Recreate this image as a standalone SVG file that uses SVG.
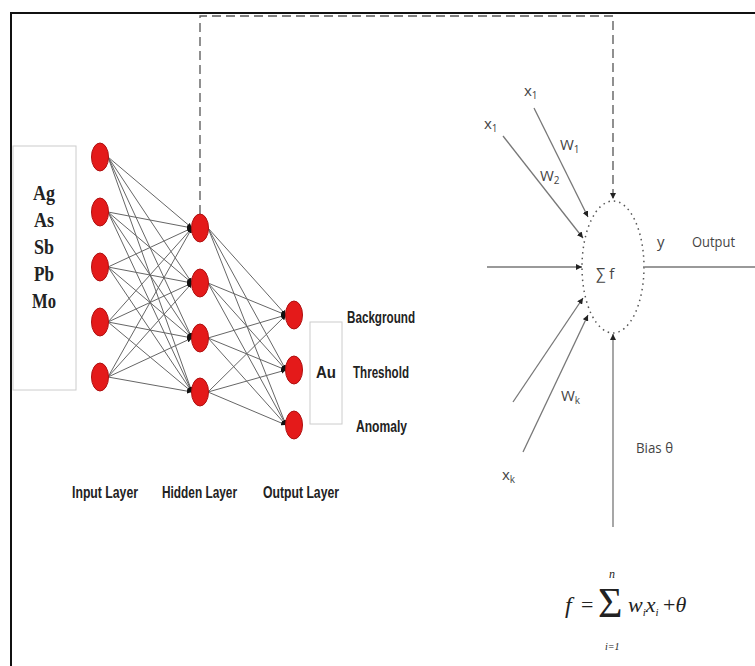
<svg xmlns="http://www.w3.org/2000/svg" width="755" height="666" viewBox="0 0 755 666">
<defs>
<marker id="ah" viewBox="0 0 10 10" refX="10" refY="5" markerWidth="5" markerHeight="5" orient="auto" markerUnits="userSpaceOnUse"><path d="M0,0 L10,5 L0,10 z" fill="#111"/></marker>
<marker id="ah2" viewBox="0 0 10 10" refX="10" refY="5" markerWidth="6" markerHeight="6" orient="auto" markerUnits="userSpaceOnUse"><path d="M0,0 L10,5 L0,10 z" fill="#222"/></marker>
</defs>
<style>
.node{fill:#e41a1a;stroke:#b01010;stroke-width:1}
.e{stroke:#666;stroke-width:1;fill:none;marker-end:url(#ah)}
.box{fill:none;stroke:#ccc;stroke-width:1}
.el{font-family:"Liberation Serif",serif;font-weight:bold;font-size:20px;fill:#222;text-anchor:middle}
.lb{font-family:"Liberation Sans",sans-serif;font-weight:bold;font-size:16px;fill:#222}
.lt{font-family:"Open Sans","Liberation Sans",sans-serif;font-size:15px;fill:#444}
.sub{font-size:10px}
.ln{stroke:#777;stroke-width:1.3;fill:none;marker-end:url(#ah2)}
.fm{font-family:"Liberation Serif",serif;fill:#222}
</style>
<rect x="0" y="0" width="755" height="666" fill="#fff"/>
<path d="M11,666 L11,13 L755,13" fill="none" stroke="#111" stroke-width="2"/>

<g id="input-box">
<rect class="box" x="13" y="146" width="63" height="244"/>
<text class="el" x="44" y="200" textLength="22" lengthAdjust="spacingAndGlyphs">Ag</text>
<text class="el" x="44" y="227" textLength="20" lengthAdjust="spacingAndGlyphs">As</text>
<text class="el" x="44" y="254" textLength="20" lengthAdjust="spacingAndGlyphs">Sb</text>
<text class="el" x="44" y="281" textLength="20" lengthAdjust="spacingAndGlyphs">Pb</text>
<text class="el" x="44" y="308" textLength="24" lengthAdjust="spacingAndGlyphs">Mo</text>
</g>

<g id="connectors">
<g id="nn-edges">
<line class="e" x1="108" y1="157" x2="192" y2="228"/><line class="e" x1="108" y1="157" x2="192" y2="283"/><line class="e" x1="108" y1="157" x2="192" y2="338"/><line class="e" x1="108" y1="157" x2="192" y2="392"/>
<line class="e" x1="108" y1="212" x2="192" y2="228"/><line class="e" x1="108" y1="212" x2="192" y2="283"/><line class="e" x1="108" y1="212" x2="192" y2="338"/><line class="e" x1="108" y1="212" x2="192" y2="392"/>
<line class="e" x1="108" y1="267" x2="192" y2="228"/><line class="e" x1="108" y1="267" x2="192" y2="283"/><line class="e" x1="108" y1="267" x2="192" y2="338"/><line class="e" x1="108" y1="267" x2="192" y2="392"/>
<line class="e" x1="108" y1="322" x2="192" y2="228"/><line class="e" x1="108" y1="322" x2="192" y2="283"/><line class="e" x1="108" y1="322" x2="192" y2="338"/><line class="e" x1="108" y1="322" x2="192" y2="392"/>
<line class="e" x1="108" y1="377" x2="192" y2="228"/><line class="e" x1="108" y1="377" x2="192" y2="283"/><line class="e" x1="108" y1="377" x2="192" y2="338"/><line class="e" x1="108" y1="377" x2="192" y2="392"/>
<line class="e" x1="208" y1="228" x2="286" y2="315"/><line class="e" x1="208" y1="228" x2="286" y2="370"/><line class="e" x1="208" y1="228" x2="286" y2="425"/>
<line class="e" x1="208" y1="283" x2="286" y2="315"/><line class="e" x1="208" y1="283" x2="286" y2="370"/><line class="e" x1="208" y1="283" x2="286" y2="425"/>
<line class="e" x1="208" y1="338" x2="286" y2="315"/><line class="e" x1="208" y1="338" x2="286" y2="370"/><line class="e" x1="208" y1="338" x2="286" y2="425"/>
<line class="e" x1="208" y1="392" x2="286" y2="315"/><line class="e" x1="208" y1="392" x2="286" y2="370"/><line class="e" x1="208" y1="392" x2="286" y2="425"/>
</g>
<path d="M200,214 L200,16 L613,16 L613,199" fill="none" stroke="#555" stroke-width="1.3" stroke-dasharray="9,5" marker-end="url(#ah2)"/>
<line class="ln" x1="534" y1="108" x2="588" y2="217"/>
<line class="ln" x1="503" y1="136" x2="583" y2="238"/>
<line class="ln" x1="487" y1="267" x2="582" y2="267"/>
<line class="ln" x1="513" y1="402" x2="583" y2="298"/>
<line class="ln" x1="523" y1="452" x2="588" y2="315"/>
<line class="ln" x1="613" y1="527" x2="613" y2="334"/>
<line x1="645" y1="267" x2="755" y2="267" stroke="#777" stroke-width="1.3"/>
</g>

<g id="input-layer">
<ellipse class="node" cx="100" cy="157" rx="8.5" ry="14"/>
<ellipse class="node" cx="100" cy="212" rx="8.5" ry="14"/>
<ellipse class="node" cx="100" cy="267" rx="8.5" ry="14"/>
<ellipse class="node" cx="100" cy="322" rx="8.5" ry="14"/>
<ellipse class="node" cx="100" cy="377" rx="8.5" ry="14"/>
</g>
<g id="hidden-layer">
<ellipse class="node" cx="200" cy="228" rx="8.5" ry="14"/>
<ellipse class="node" cx="200" cy="283" rx="8.5" ry="14"/>
<ellipse class="node" cx="200" cy="338" rx="8.5" ry="14"/>
<ellipse class="node" cx="200" cy="392" rx="8.5" ry="14"/>
</g>
<g id="output-layer">
<ellipse class="node" cx="294" cy="315" rx="8.5" ry="14"/>
<ellipse class="node" cx="294" cy="370" rx="8.5" ry="14"/>
<ellipse class="node" cx="294" cy="425" rx="8.5" ry="14"/>
</g>

<g id="au-box">
<rect class="box" x="310" y="322" width="32" height="102"/>
<text class="lb" x="326" y="378" text-anchor="middle" textLength="20" lengthAdjust="spacingAndGlyphs">Au</text>
</g>
<g id="classes">
<text class="lb" x="347" y="323" textLength="68" lengthAdjust="spacingAndGlyphs">Background</text>
<text class="lb" x="353" y="378" textLength="56" lengthAdjust="spacingAndGlyphs">Threshold</text>
<text class="lb" x="356" y="432" textLength="51" lengthAdjust="spacingAndGlyphs">Anomaly</text>
</g>
<g id="layer-labels">
<text class="lb" x="72" y="498" textLength="66" lengthAdjust="spacingAndGlyphs">Input Layer</text>
<text class="lb" x="162" y="498" textLength="75" lengthAdjust="spacingAndGlyphs">Hidden Layer</text>
<text class="lb" x="263" y="498" textLength="76" lengthAdjust="spacingAndGlyphs">Output Layer</text>
</g>

<g id="neuron">
<ellipse cx="613" cy="267" rx="31" ry="66" fill="none" stroke="#555" stroke-width="1.5" stroke-dasharray="1.5,4"/>
<text class="lt" x="596" y="279" font-size="17">∑ f</text>
</g>
<g id="neuron-labels">
<text class="lt" x="524" y="96">x<tspan class="sub" dy="3">1</tspan></text>
<text class="lt" x="484" y="129">x<tspan class="sub" dy="3">1</tspan></text>
<text class="lt" x="560" y="150">W<tspan class="sub" dy="3">1</tspan></text>
<text class="lt" x="540" y="181">W<tspan class="sub" dy="3">2</tspan></text>
<text class="lt" x="561" y="401">W<tspan class="sub" dy="3">k</tspan></text>
<text class="lt" x="502" y="480">x<tspan class="sub" dy="3">k</tspan></text>
<text class="lt" x="636" y="453" textLength="37" lengthAdjust="spacingAndGlyphs">Bias θ</text>
<text class="lt" x="657" y="247">y</text>
<text class="lt" x="692" y="247" textLength="43" lengthAdjust="spacingAndGlyphs">Output</text>
</g>
<g id="formula">
<text class="fm" x="565" y="613" font-size="24" font-style="italic">f</text>
<text class="fm" x="581" y="612" font-size="22">=</text>
<text class="fm" x="598" y="617" font-size="42">Σ</text>
<text class="fm" x="609" y="578" font-size="12" font-style="italic">n</text>
<text class="fm" x="605" y="650" font-size="10" font-style="italic">i=1</text>
<text class="fm" x="628" y="612" font-size="22" font-style="italic">w<tspan font-size="11" dy="4">i</tspan><tspan dy="-4">x</tspan><tspan font-size="11" dy="4">i</tspan></text>
<text class="fm" x="663" y="612" font-size="22">+<tspan font-style="italic">θ</tspan></text>
</g>
</svg>
